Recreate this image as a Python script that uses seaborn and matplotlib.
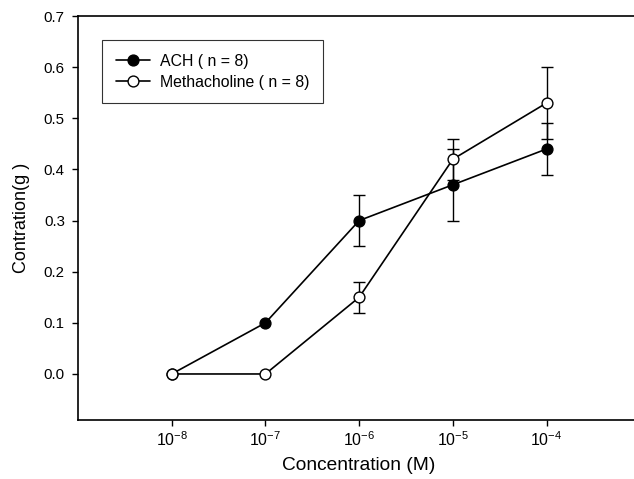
import matplotlib
matplotlib.use("Agg")
import matplotlib.pyplot as plt
import seaborn as sns
import pandas as pd
import numpy as np

concentrations = [1e-8, 1e-7, 1e-6, 1e-5, 1e-4]
ach_values = [0.0, 0.10, 0.30, 0.37, 0.44]
ach_err = [0.0, 0.0, 0.05, 0.07, 0.05]
meth_values = [0.0, 0.0, 0.15, 0.42, 0.53]
meth_err = [0.0, 0.0, 0.03, 0.04, 0.07]
series_names = ["ACH ( n = 8)", "Methacholine ( n = 8)"]
tick_labels = ["$10^{-8}$", "$10^{-7}$", "$10^{-6}$", "$10^{-5}$", "$10^{-4}$"]
y_ticks = [0.0, 0.1, 0.2, 0.3, 0.4, 0.5, 0.6, 0.7]

sns.set_style("ticks")
plt.rcParams['font.family'] = ['Liberation Sans', 'DejaVu Sans']
plt.rcParams['mathtext.fontset'] = 'custom'
plt.rcParams['mathtext.rm'] = 'Liberation Sans'
plt.rcParams['mathtext.it'] = 'Liberation Sans'
plt.rcParams['mathtext.sf'] = 'Liberation Sans'
plt.rcParams['text.color'] = 'black'
plt.rcParams['axes.labelcolor'] = 'black'
plt.rcParams['xtick.color'] = 'black'
plt.rcParams['ytick.color'] = 'black'

df = pd.DataFrame({
    "conc": concentrations * 2,
    "value": ach_values + meth_values,
    "err": ach_err + meth_err,
    "series": [series_names[0]] * 5 + [series_names[1]] * 5,
})

fig = plt.figure(figsize=(6.34, 4.79), dpi=100)
ax = fig.add_axes([78/634, 1 - 420/479, 1 - 78/634 + 0.01, (420 - 16)/479])

faces = {series_names[0]: "black", series_names[1]: "white"}
for name in series_names:
    sub = df[df["series"] == name]
    mask = sub["err"] > 0
    ax.errorbar(sub["conc"][mask], sub["value"][mask], yerr=sub["err"][mask],
                fmt="none", ecolor="black", elinewidth=1.0, capsize=4.5,
                capthick=1.0, zorder=2)
for name in series_names:
    sub = df[df["series"] == name]
    sns.lineplot(data=sub, x="conc", y="value", ax=ax, color="black",
                 linewidth=1.2, marker="o", markersize=7.8,
                 markerfacecolor=faces[name], markeredgecolor="black",
                 markeredgewidth=1.0, label=name, zorder=3)

ax.set_xscale("log")
ax.set_xlim(1e-9, 10 ** -3.0)
ax.set_ylim(-0.09, 0.7)
ax.set_xticks(concentrations)
ax.set_xticklabels(tick_labels)
ax.minorticks_off()
ax.set_yticks(y_ticks)
ax.set_yticklabels([f"{v:.1f}" for v in y_ticks])
ax.tick_params(axis="both", direction="out", color="black", width=1.0,
               labelcolor="black")
ax.tick_params(axis="y", length=4.5, pad=5, labelsize=10.8)
ax.tick_params(axis="x", length=4.3, pad=3, labelsize=11.5)
for s in ["left", "top", "bottom"]:
    ax.spines[s].set_color("black")
    ax.spines[s].set_linewidth(1.2)
ax.spines["right"].set_visible(False)

ax.set_xlabel("Concentration (M)", fontsize=13.8, labelpad=6, color="black")
ax.set_ylabel("Contration(g )", fontsize=13, labelpad=10, color="black")

leg = ax.legend(loc="upper left", bbox_to_anchor=(0.043, 0.94), frameon=True,
                fancybox=False, edgecolor="black", fontsize=11.4,
                handlelength=2.2, borderpad=0.85, labelspacing=0.38,
                handletextpad=0.6, borderaxespad=0, labelcolor="black")
leg.get_frame().set_linewidth(0.8)

fig.savefig("out.png", dpi=100)
